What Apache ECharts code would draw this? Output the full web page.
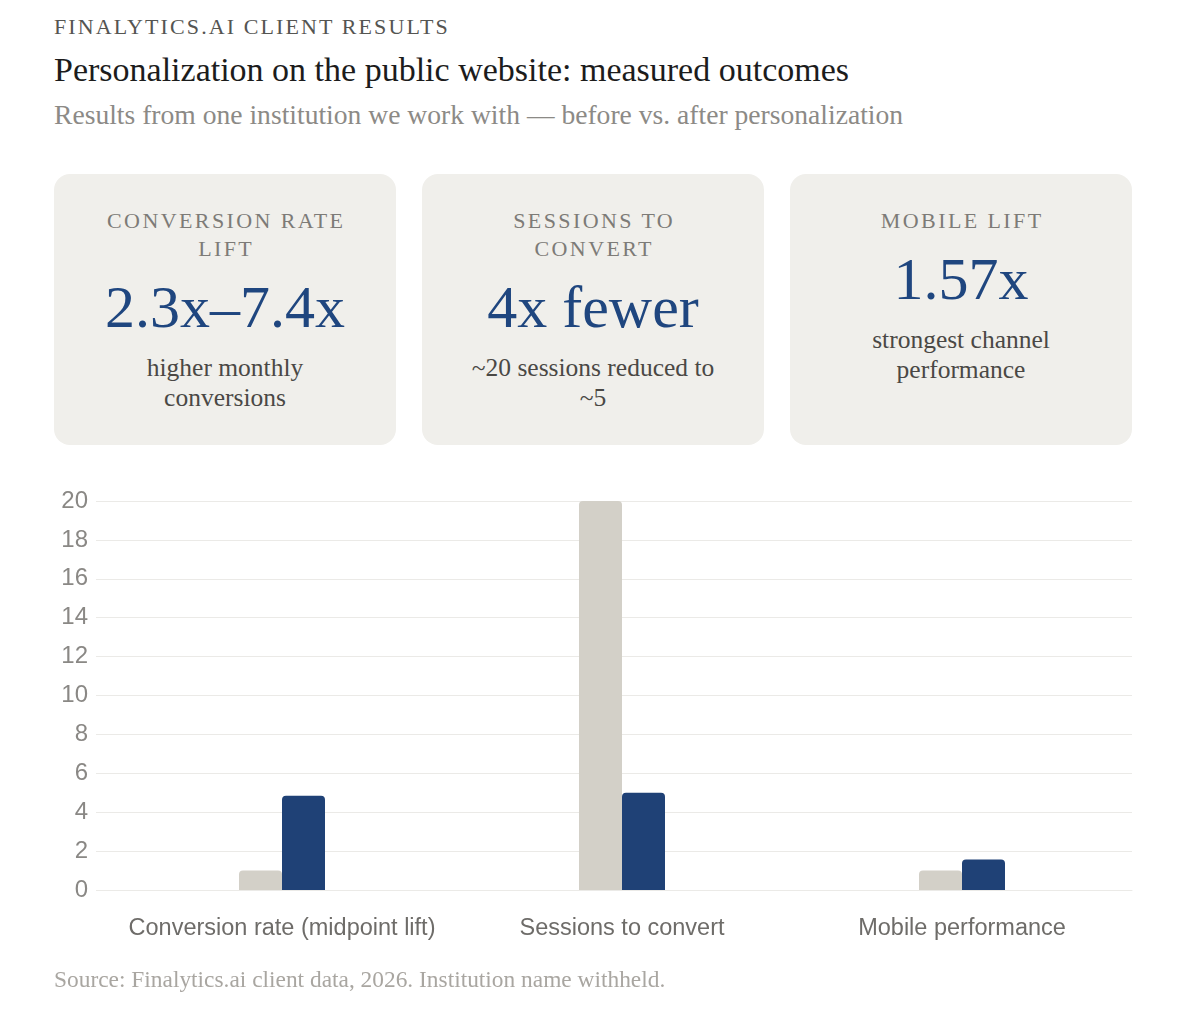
<!DOCTYPE html>
<html>
<head>
<meta charset="utf-8">
<script src="https://cdn.jsdelivr.net/npm/echarts@6/dist/echarts.min.js"></script>
<style>
  html, body { margin: 0; padding: 0; background: #ffffff; width: 1188px; height: 1014px; overflow: hidden; }
  body { position: relative; font-family: "Liberation Serif", "Times New Roman", Times, serif; }
  .abs { position: absolute; white-space: nowrap; }
  #eyebrow { left: 54px; top: 14px; font-size: 22px; line-height: 26px; letter-spacing: 2.1px; color: #555552; }
  #title { left: 54px; top: 51px; font-size: 34px; line-height: 38px; color: #1c1c1c; }
  #subtitle { left: 54px; top: 99px; font-size: 27.6px; line-height: 32px; color: #8c8a86; }
  .card { position: absolute; top: 174px; width: 342px; height: 271px; background: #f0efeb; border-radius: 16px;
          box-sizing: border-box; padding: 33px 20px 0 20px; text-align: center; }
  .card .lbl { font-size: 22px; line-height: 28px; letter-spacing: 2.4px; color: #7d7b77; padding-left: 2.4px; }
  .card .val { font-size: 60px; line-height: 64px; color: #1f467f; margin-top: 12px; }
  .card .desc { font-size: 25.5px; line-height: 30px; color: #4a4845; margin-top: 14px; }
  #chart { position: absolute; left: 0; top: 470px; width: 1188px; height: 500px; }
  #source { left: 54px; top: 965px; font-size: 23.4px; line-height: 28px; color: #a9a6a1; }
</style>
</head>
<body>
<div id="eyebrow" class="abs">FINALYTICS.AI CLIENT RESULTS</div>
<div id="title" class="abs">Personalization on the public website: measured outcomes</div>
<div id="subtitle" class="abs">Results from one institution we work with — before vs. after personalization</div>

<div class="card" style="left:54px">
  <div class="lbl">CONVERSION RATE<br>LIFT</div>
  <div class="val">2.3x–7.4x</div>
  <div class="desc">higher monthly<br>conversions</div>
</div>
<div class="card" style="left:422px">
  <div class="lbl">SESSIONS TO<br>CONVERT</div>
  <div class="val">4x fewer</div>
  <div class="desc">~20 sessions reduced to<br>~5</div>
</div>
<div class="card" style="left:790px">
  <div class="lbl">MOBILE LIFT</div>
  <div class="val">1.57x</div>
  <div class="desc">strongest channel<br>performance</div>
</div>

<div id="chart"></div>
<div id="source" class="abs">Source: Finalytics.ai client data, 2026. Institution name withheld.</div>

<script>
const categories = ['Conversion rate (midpoint lift)', 'Sessions to convert', 'Mobile performance'];
const beforeValues = [1, 20, 1];
const afterValues = [4.85, 5, 1.57];
const seriesNames = ['Before personalization', 'After personalization'];

const chart = echarts.init(document.getElementById('chart'), null, { renderer: 'canvas' });
chart.setOption({
  animation: false,
  grid: { left: 112, right: 56, top: 31, bottom: 80, containLabel: false },
  xAxis: {
    type: 'category',
    data: categories,
    axisLine: { show: true, lineStyle: { color: '#ebeae7', width: 1 } },
    axisTick: { show: false },
    axisLabel: { interval: 0, hideOverlap: false, color: '#6e6c69', fontSize: 23.5, fontFamily: 'Liberation Sans, Arial, sans-serif', margin: 27 },
    splitLine: { show: false }
  },
  yAxis: {
    type: 'value',
    min: 0,
    max: 20,
    interval: 2,
    axisLine: { show: false },
    axisTick: { show: true, length: 16, lineStyle: { color: '#ebeae7', width: 1 } },
    axisLabel: { color: '#8a8885', fontSize: 24, fontFamily: 'Liberation Sans, Arial, sans-serif', margin: 24 },
    splitLine: { show: true, lineStyle: { color: '#ebeae7', width: 1 } }
  },
  series: [
    {
      name: seriesNames[0],
      type: 'bar',
      data: beforeValues,
      barWidth: 43,
      barGap: '0%',
      itemStyle: { color: '#d3d0c8', borderRadius: [4, 4, 0, 0] }
    },
    {
      name: seriesNames[1],
      type: 'bar',
      data: afterValues,
      barWidth: 43,
      barGap: '0%',
      itemStyle: { color: '#1f4176', borderRadius: [4, 4, 0, 0] }
    }
  ]
});
</script>
</body>
</html>
